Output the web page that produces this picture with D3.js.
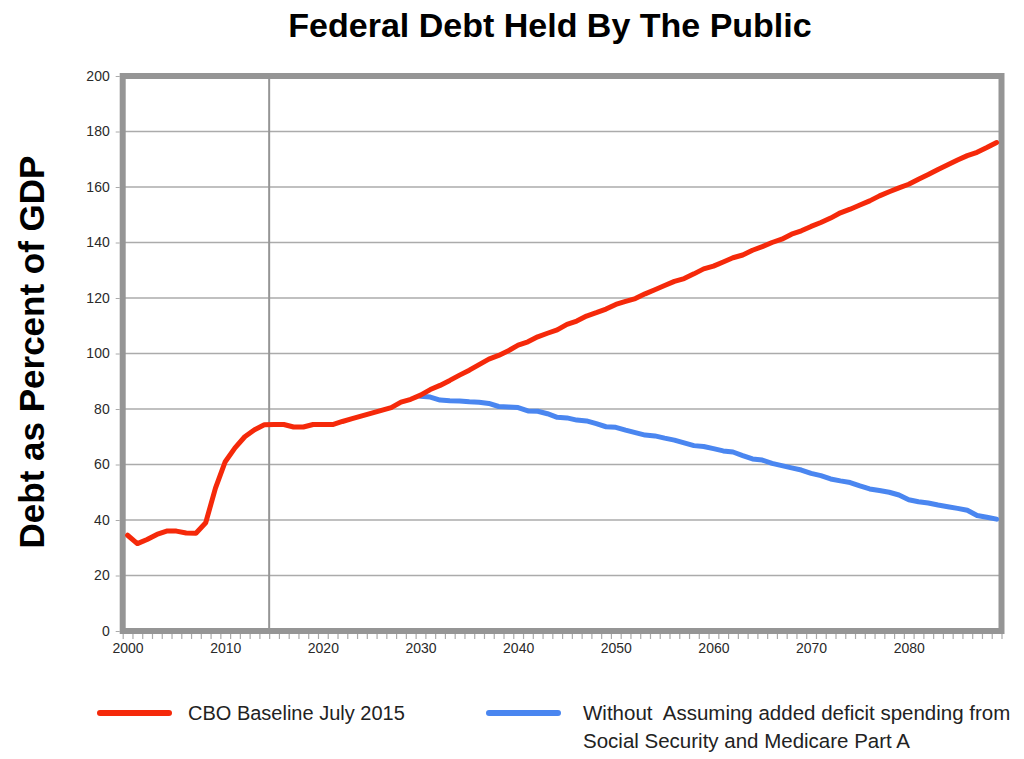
<!DOCTYPE html>
<html>
<head>
<meta charset="utf-8">
<script src="https://cdn.jsdelivr.net/npm/d3@7"></script>
<style>
html,body{margin:0;padding:0;background:#fff;}
svg{display:block;}
text{font-family:"Liberation Sans",Arial,Helvetica,sans-serif;}
</style>
</head>
<body>
<svg id="chart" width="1024" height="759"></svg>
<script>
const title = "Federal Debt Held By The Public";
const yAxisTitle = "Debt as Percent of GDP";
const seriesNames = ["CBO Baseline July 2015", ["Without  Assuming added deficit spending from", "Social Security and Medicare Part A"]];
const yTicks = [0, 20, 40, 60, 80, 100, 120, 140, 160, 180, 200];
const xLabelYears = [2000, 2010, 2020, 2030, 2040, 2050, 2060, 2070, 2080];
const markerYear = 2014.5;

const baselineYears = d3.range(2000, 2090);
const baselineValues = [
  34.5, 31.5, 33.0, 34.8, 36.0, 36.0, 35.3, 35.2, 39.0, 51.5,
  61.0, 66.0, 70.0, 72.5, 74.3, 74.4, 74.4, 73.5, 73.5, 74.4,
  74.4, 74.4, 75.5, 76.5, 77.5, 78.5, 79.5, 80.5, 82.5, 83.5,
  85.0, 87.0, 88.5, 90.3, 92.2, 94.0, 96.0, 98.0, 99.3, 101.0,
  103.0, 104.2, 106.0, 107.3, 108.5, 110.5, 111.7, 113.5, 114.7, 116.0,
  117.7, 118.8, 119.8, 121.5, 123.0, 124.5, 126.0, 127.0, 128.7, 130.5,
  131.5, 133.0, 134.5, 135.5, 137.2, 138.5, 140.0, 141.2, 143.0, 144.2,
  145.8, 147.2, 148.8, 150.7, 152.0, 153.5, 155.0, 156.8, 158.3, 159.7,
  161.0, 162.8, 164.5, 166.3, 168.0, 169.7, 171.3, 172.5, 174.2, 176.0
];

const altYears = d3.range(2030, 2090);
const altValues = [
  84.6, 84.3, 83.2, 83.0, 82.9, 82.6, 82.4, 82.0, 80.9, 80.7,
  80.5, 79.3, 79.2, 78.3, 77.0, 76.8, 76.0, 75.7, 74.7, 73.6,
  73.4, 72.4, 71.5, 70.6, 70.3, 69.5, 68.8, 67.8, 66.8, 66.5,
  65.7, 64.9, 64.5, 63.2, 62.0, 61.6, 60.4, 59.6, 58.8, 58.0,
  56.8, 56.0, 54.8, 54.1, 53.5, 52.3, 51.2, 50.6, 50.0, 49.0,
  47.3, 46.6, 46.1, 45.4, 44.8, 44.2, 43.5, 41.6, 41.0, 40.3
];

const svg = d3.select("#chart");
const x = d3.scaleLinear().domain([1999.5, 2089.5]).range([122.7, 1001.5]);
const y = d3.scaleLinear().domain([0, 200]).range([631, 76]);

const gridColor = "#ababab";
const frameColor = "#959595";
const labelFont = '"Liberation Sans", Arial, sans-serif';

// gridlines
svg.append("g").selectAll("line").data(yTicks.filter(d => d > 0 && d < 200)).join("line")
  .attr("x1", x(1999.5)).attr("x2", x(2089.5))
  .attr("y1", d => y(d)).attr("y2", d => y(d))
  .attr("stroke", gridColor).attr("stroke-width", 1.6);

// vertical marker
svg.append("line")
  .attr("x1", x(markerYear)).attr("x2", x(markerYear))
  .attr("y1", y(200)).attr("y2", y(0))
  .attr("stroke", frameColor).attr("stroke-width", 2);

// y axis (labels + tiny ticks)
const yAxis = d3.axisLeft(y).tickValues(yTicks).tickSize(4).tickPadding(6);
const gy = svg.append("g").attr("transform", `translate(${x(1999.5) - 3},0)`).call(yAxis);
gy.select(".domain").remove();
gy.attr("font-size", null).attr("font-family", null);
gy.selectAll(".tick line").attr("stroke", "#aaa");
gy.selectAll(".tick text").style("font-size", "14px").attr("fill", "#2a2a2a")
  .style("font-family", labelFont);

// x axis ticks at year boundaries
const xTickAxis = d3.axisBottom(x).tickValues(d3.range(1999.5, 2090, 1)).tickSize(5).tickFormat("");
const gx = svg.append("g").attr("transform", `translate(0,${y(0) + 3})`).call(xTickAxis);
gx.select(".domain").remove();
gx.selectAll(".tick line").attr("stroke", "#aaa").attr("stroke-width", 1.2);

// x labels centered on categories
const xLabelAxis = d3.axisBottom(x).tickValues(xLabelYears).tickSize(0).tickPadding(9).tickFormat(d3.format("d"));
const gxl = svg.append("g").attr("transform", `translate(0,${y(0) + 3})`).call(xLabelAxis);
gxl.select(".domain").remove();
gxl.attr("font-size", null).attr("font-family", null);
gxl.selectAll(".tick text").style("font-size", "14px").attr("fill", "#2a2a2a")
  .style("font-family", labelFont);

// frame
svg.append("rect")
  .attr("x", x(1999.5)).attr("y", y(200))
  .attr("width", x(2089.5) - x(1999.5)).attr("height", y(0) - y(200))
  .attr("fill", "none").attr("stroke", frameColor).attr("stroke-width", 6);

// lines
const line = d3.line().x(d => x(d[0])).y(d => y(d[1]));
svg.append("path")
  .datum(altYears.map((yr, i) => [yr, altValues[i]]))
  .attr("d", line).attr("fill", "none").attr("stroke", "#4a86f0")
  .attr("stroke-width", 5).attr("stroke-linejoin", "round").attr("stroke-linecap", "round");
svg.append("path")
  .datum(baselineYears.map((yr, i) => [yr, baselineValues[i]]))
  .attr("d", line).attr("fill", "none").attr("stroke", "#f5290a")
  .attr("stroke-width", 5).attr("stroke-linejoin", "round").attr("stroke-linecap", "round");

// title
svg.append("text").attr("x", 550).attr("y", 37).attr("text-anchor", "middle")
  .attr("font-size", 34).attr("font-weight", "bold").attr("fill", "#000").text(title);

// y axis title
svg.append("text").attr("transform", "translate(44,352) rotate(-90)")
  .attr("text-anchor", "middle").attr("font-size", 35).attr("font-weight", "bold")
  .attr("fill", "#000").text(yAxisTitle);

// legend
const legend = svg.append("g");
legend.append("line").attr("x1", 100).attr("x2", 169).attr("y1", 713).attr("y2", 713)
  .attr("stroke", "#f5290a").attr("stroke-width", 6).attr("stroke-linecap", "round");
legend.append("text").attr("x", 188).attr("y", 720).attr("font-size", 20).attr("fill", "#222")
  .text(seriesNames[0]);
legend.append("line").attr("x1", 489).attr("x2", 558).attr("y1", 713).attr("y2", 713)
  .attr("stroke", "#4a86f0").attr("stroke-width", 6).attr("stroke-linecap", "round");
const t2 = legend.append("text").attr("font-size", 20.5).attr("fill", "#222").style("white-space", "pre");
seriesNames[1].forEach((s, i) => {
  t2.append("tspan").attr("x", 583).attr("y", 720 + i * 28).text(s);
});
</script>
</body>
</html>
